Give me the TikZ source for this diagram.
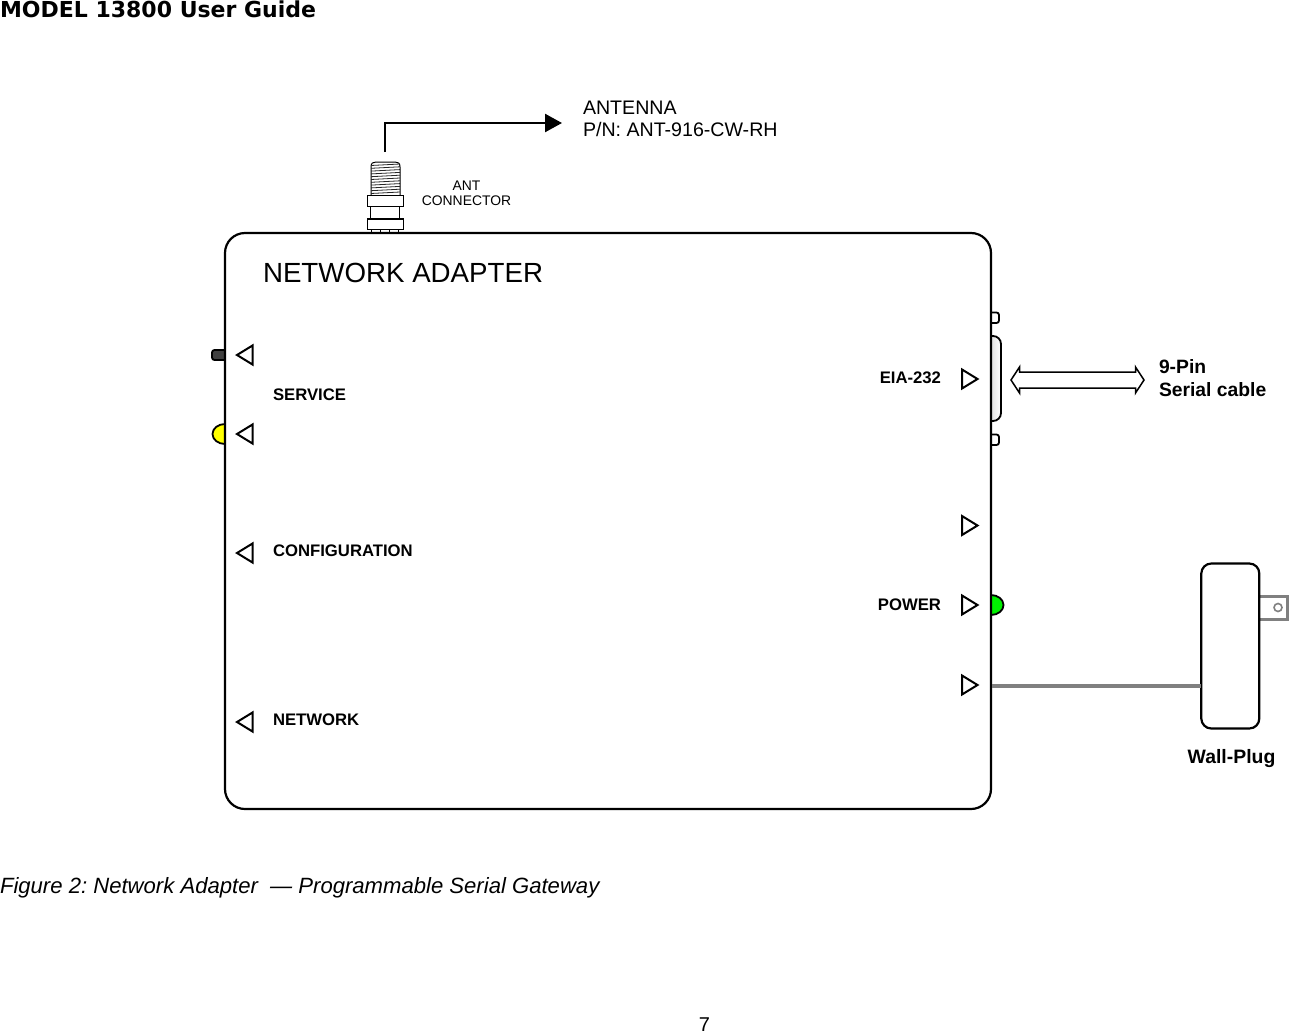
\documentclass[tikz,border=0pt]{standalone}
\usepackage{fontspec}
\setmainfont{Liberation Sans}
\newfontfamily\headfont{DejaVu Sans}
\usepackage{xcolor}
\usepackage{tikz}
\usetikzlibrary{arrows.meta,positioning}
\definecolor{ledgreen}{RGB}{0,240,0}
\definecolor{ledyellow}{RGB}{255,255,0}
\definecolor{plugshell}{RGB}{128,128,128}
\frenchspacing

\begin{document}
\begin{tikzpicture}[
        x=1pt, y=-1pt,
        every node/.style={inner sep=0pt, outer sep=0pt},
        box/.style={draw=black, line width=2.2pt, rounded corners=20pt, fill=white},
        part/.style={draw=black, line width=1.8pt, fill=white},
        tri/.style={draw=black, line width=2pt, line join=miter, fill=white},
        lab/.style={font=\fontsize{16.7}{19}\selectfont\bfseries, anchor=base west},
        big/.style={font=\fontsize{19.3}{23}\selectfont\bfseries, align=left, anchor=west},
        arr/.style={-{Triangle[length=17pt,width=18pt]}, line width=2.4pt, draw=black}
      ]
        \useasboundingbox (0,0) rectangle (1289,1033);
        % page text
        \node[font=\fontsize{22}{24}\selectfont\headfont\bfseries, anchor=base west] (title) at (0,17.5) {MODEL 13800 User Guide};
        \node[font=\fontsize{22.1}{26}\selectfont\itshape, anchor=base west] (caption) at (0,893) {Figure 2: Network Adapter\ \ --- Programmable Serial Gateway};
        \node[font=\fontsize{20}{24}\selectfont, anchor=base] (pagenum) at (704.5,1031) {7};

        % parts sitting behind the case edge
        \draw[part, fill=black!75, rounded corners=2.5pt] (228,350) rectangle (212,360);
        \draw[part, fill=ledyellow] (225,424) arc (270:90:12.5 and 10) -- cycle;
        \draw[part, fill=ledgreen] (991,595) arc (-90:90:12.5 and 10) -- cycle;
        \draw[part, rounded corners=2.5pt] (985,312.5) rectangle (999,323);
        \draw[part, rounded corners=2.5pt] (985,434.5) rectangle (999,445);
        \draw[part, left color=black!22, right color=white, rounded corners=8pt] (982,336) rectangle (1001,421);

        % case
        \node[box, minimum width=766pt, minimum height=576pt] (adapter) at (608,521) {};
        \node[font=\fontsize{27.7}{32}\selectfont, anchor=base west] (adaptername) at (263,282) {NETWORK ADAPTER};

        % ant connector
        \foreach \px in {371,380,389,398} {
          \draw[black, line width=0.7pt] (\px,230) -- (\px,233);
        }
        \draw[part, line width=1pt] (371,195) -- (371,167) .. controls (371,163) and (373,162) .. (376,162) -- (395,162) .. controls (398,162) and (400,163) .. (400,167) -- (400,195);
        \foreach \py in {165.5,168.3,...,196} {
          \draw[black!85, line width=0.8pt] (371,\py) -- (400,\py-1.5);
        }
        \draw[part, line width=1.4pt] (367.5,195.5) rectangle (403.5,206.5);
        \draw[part, line width=1.4pt] (370.5,206.5) rectangle (399.5,219);
        \draw[part, line width=1.4pt] (367.5,219) rectangle (403.5,229.5);
        \coordinate (antfeed) at (385,152);
        \coordinate (anttip) at (562,123);
        \draw[arr] (antfeed) |- (anttip);
        \node[font=\fontsize{13.9}{15}\selectfont, align=center] (antconn) at (466.5,193.5) {ANT\\CONNECTOR};
        \node[font=\fontsize{19.6}{22}\selectfont, align=left, anchor=west] (antlabel) at (583,119) {ANTENNA\\P/N: ANT-916-CW-RH};

        % ports on the left
        \foreach \py in {355,434,553,722} {
          \draw[tri] (237,\py) -- (252.5,\py-9.5) -- (252.5,\py+9.5) -- cycle;
        }
        % ports on the right
        \foreach \py in {379,525.5,605,685} {
          \draw[tri] (977.5,\py) -- (962,\py-9.5) -- (962,\py+9.5) -- cycle;
        }
        \node[lab] (service) at (273,400) {SERVICE};
        \node[lab] (config) at (273,556) {CONFIGURATION};
        \node[lab] (network) at (273,725) {NETWORK};
        \node[lab, anchor=base east] (eia) at (941,383) {EIA-232};
        \node[lab, anchor=base east] (power) at (941,610) {POWER};

        % serial cable
        \node[big] (cablelabel) at (1159,378) {9-Pin\\Serial cable};
        \coordinate (serialout) at (1011,380);
        \coordinate (serialend) at (1144,380);
        \draw[part, line width=1.5pt] (serialout) -- ++(8.5,-13) -- ++(0,5) -- ++(116,0) -- ++(0,-5) -- (serialend)
          -- ++(-8.5,13) -- ++(0,-5) -- ++(-116,0) -- ++(0,5) -- cycle;

        % wall plug
        \draw[draw=plugshell, line width=2.6pt, fill=white] (1259,596.5) rectangle (1287.5,619.5);
        \node[circle, draw=plugshell, line width=1.6pt, minimum size=8pt] (plughole) at (1278,607.5) {};
        \node[box, rounded corners=10pt, minimum width=58pt, minimum height=165pt] (plug) at (1230.3,646) {};
        \coordinate (cordstart) at (992,686);
        \coordinate (cordend) at (plug.west |- cordstart);
        \draw[draw=plugshell, line width=3.6pt] (cordstart) -- (cordend);
        \node[font=\fontsize{19.4}{23}\selectfont\bfseries, anchor=base] (pluglabel) at (1231.5,763) {Wall-Plug};
      \end{tikzpicture}
\end{document}
